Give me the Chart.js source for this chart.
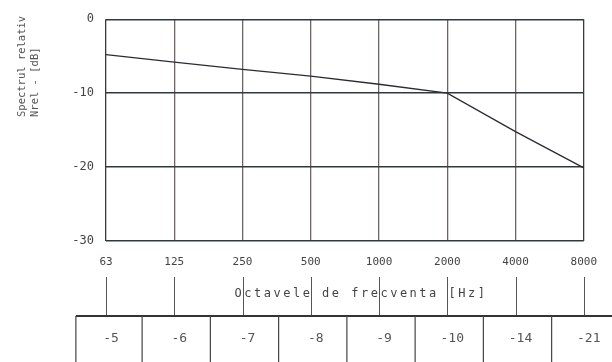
<!DOCTYPE html>
<html>
<head>
<meta charset="utf-8">
<script src="https://cdn.jsdelivr.net/npm/chart.js@4/dist/chart.umd.min.js"></script>
<style>
html,body{margin:0;padding:0;background:#fff;}
#wrap{width:612px;height:362px;position:relative;}
</style>
</head>
<body>
<div id="wrap"><canvas id="c" width="612" height="362"></canvas></div>
<script>
const categories = ['63','125','250','500','1000','2000','4000','8000'];
const lineValues = [-4.8, -5.8, -6.8, -7.7, -8.8, -10, -15.2, -20.1];
const tableValues = [-5, -6, -7, -8, -9, -10, -14, -21];
const yTicks = [0, -10, -20, -30];
const xTitle = 'Octavele de frecventa [Hz]';
const yTitleLines = ['Spectrul relativ', 'Nrel - [dB]'];

const MONO = '"DejaVu Sans Mono", "Liberation Mono", monospace';

const extras = {
  id: 'extras',
  afterDraw(chart) {
    const ctx = chart.ctx;
    const xs = chart.scales.x;
    ctx.save();
    // y-axis title (rotated, two lines)
    ctx.fillStyle = '#555';
    ctx.font = '10.5px ' + MONO;
    ctx.textAlign = 'left';
    ctx.textBaseline = 'middle';
    ctx.translate(0, 117);
    ctx.rotate(-Math.PI / 2);
    ctx.fillText(yTitleLines[0], 0, 22);
    ctx.fillText(yTitleLines[1], 0, 35);
    ctx.restore();

    ctx.save();
    // marker lines below axis
    ctx.strokeStyle = '#555';
    ctx.lineWidth = 1;
    categories.forEach((c, i) => {
      const x = Math.round(xs.getPixelForValue(i)) + 0.5;
      ctx.beginPath();
      ctx.moveTo(x, 277);
      ctx.lineTo(x, 316);
      ctx.stroke();
    });
    // x title
    ctx.fillStyle = '#444';
    ctx.font = '12px ' + MONO;
    try { ctx.letterSpacing = '2.5px'; } catch (e) {}
    ctx.textAlign = 'center';
    ctx.textBaseline = 'middle';
    ctx.fillText(xTitle, 361, 294);
    try { ctx.letterSpacing = '0px'; } catch (e) {}

    // table
    const step = xs.getPixelForValue(1) - xs.getPixelForValue(0);
    const left = xs.getPixelForValue(0) - step / 2 + 4;
    ctx.strokeStyle = '#333';
    ctx.lineWidth = 2;
    ctx.beginPath();
    ctx.moveTo(left, 316);
    ctx.lineTo(612, 316);
    ctx.stroke();
    ctx.lineWidth = 1.2;
    ctx.strokeStyle = '#444';
    ctx.beginPath();
    ctx.moveTo(left, 316);
    ctx.lineTo(left, 362);
    ctx.stroke();
    for (let i = 0; i < categories.length - 1; i++) {
      const x = (xs.getPixelForValue(i) + xs.getPixelForValue(i + 1)) / 2 + 2;
      ctx.beginPath();
      ctx.moveTo(x, 316);
      ctx.lineTo(x, 362);
      ctx.stroke();
    }
    ctx.fillStyle = '#555';
    ctx.font = '13px ' + MONO;
    tableValues.forEach((v, i) => {
      const x = xs.getPixelForValue(i) + 5;
      ctx.fillText(String(v), x, 339);
    });
    ctx.restore();
  }
};

new Chart(document.getElementById('c'), {
  type: 'line',
  data: {
    labels: categories,
    datasets: [{
      data: lineValues,
      borderColor: '#2b2b33',
      borderWidth: 1.3,
      pointRadius: 0,
      tension: 0,
      fill: false
    }]
  },
  options: {
    responsive: false,
    animation: false,
    devicePixelRatio: 1,
    layout: { padding: { left: 0, right: 27, top: 13, bottom: 0 } },
    plugins: { legend: { display: false }, tooltip: { enabled: false } },
    scales: {
      x: {
        type: 'category',
        offset: false,
        afterFit(scale) { scale.height = 121; },
        border: { display: false },
        grid: {
          offset: false,
          drawTicks: false,
          color: (c) => (c.index === 0 || c.index === categories.length - 1) ? '#3a3a3a' : '#6e6466',
          lineWidth: 1.3
        },
        ticks: {
          padding: 15,
          maxRotation: 0,
          autoSkip: false,
          color: '#444',
          font: { family: MONO, size: 11 }
        }
      },
      y: {
        min: -30,
        max: 0,
        afterFit(scale) { scale.width = 106; },
        afterBuildTicks(scale) { scale.ticks = yTicks.map(v => ({ value: v })); },
        border: { display: false },
        grid: {
          drawTicks: false,
          color: (c) => '#2e3b3c',
          lineWidth: 1.4
        },
        ticks: {
          padding: 12,
          color: '#444',
          font: { family: MONO, size: 12 }
        }
      }
    }
  },
  plugins: [extras]
});
</script>
</body>
</html>
